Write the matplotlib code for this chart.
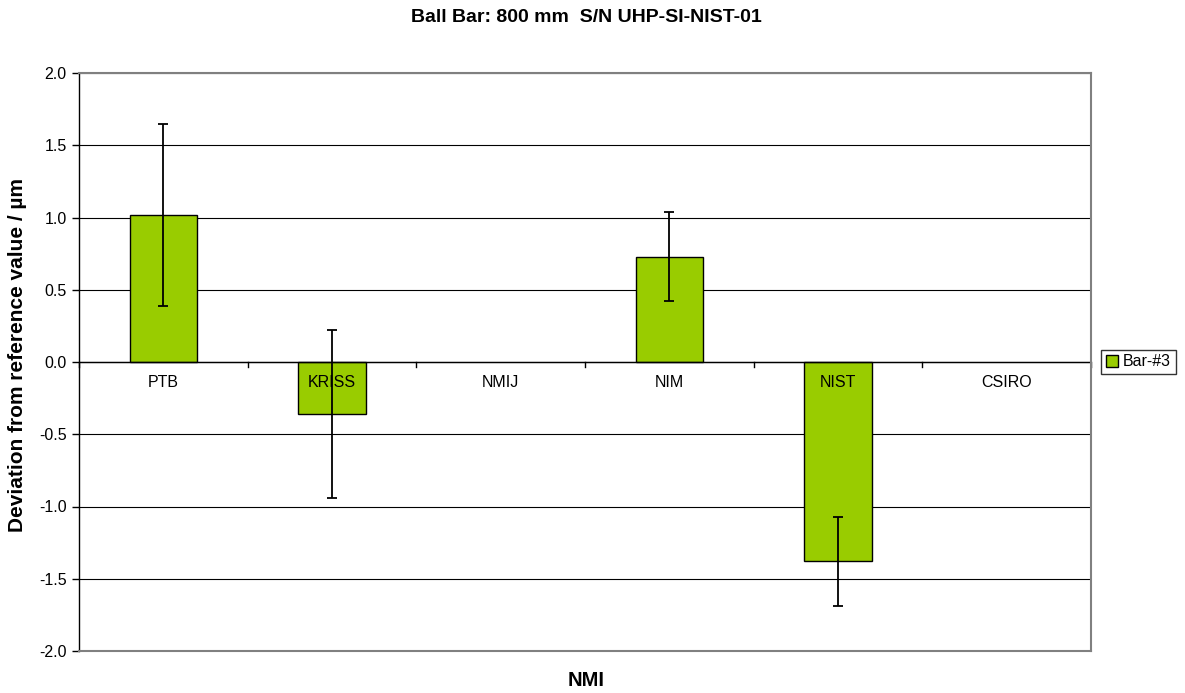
import matplotlib
matplotlib.use("Agg")
import matplotlib.pyplot as plt
import numpy as np

plt.rcParams['font.family'] = ['Liberation Sans', 'DejaVu Sans']

categories = ["PTB", "KRISS", "NMIJ", "NIM", "NIST", "CSIRO"]
values = [1.02, -0.36, np.nan, 0.73, -1.38, np.nan]
errors = [0.63, 0.58, np.nan, 0.31, 0.31, np.nan]
series_name = "Bar-#3"
y_ticks = [-2.0, -1.5, -1.0, -0.5, 0.0, 0.5, 1.0, 1.5, 2.0]

fig = plt.figure(figsize=(11.85, 6.93), dpi=100)
ax = fig.add_axes([79/1185, 42/693, (1091-79)/1185, (651-73)/693])

x = np.arange(len(categories))
vals = np.array(values, dtype=float)
errs = np.array(errors, dtype=float)
mask = ~np.isnan(vals)

for yt in y_ticks:
    ax.axhline(yt, color='black', lw=0.8, zorder=1)

bars = ax.bar(x[mask], vals[mask], width=0.40, color='#99cc00', edgecolor='black',
              linewidth=1.0, zorder=2, label=series_name)
ax.errorbar(x[mask], vals[mask], yerr=errs[mask], fmt='none', ecolor='black',
            elinewidth=1.3, capsize=3.3, capthick=1.3, zorder=3)

ax.set_xlim(-0.5, len(categories) - 0.5)
ax.set_ylim(-2.0, 2.0)
ax.set_yticks(y_ticks)
ax.set_yticklabels([f"{v:.1f}" for v in y_ticks], fontsize=11.5)
ax.tick_params(axis='y', direction='out', length=5, width=1.0, pad=4)

# category labels below zero line
ax.set_xticks([])
for xi, c in zip(x, categories):
    ax.text(xi, -0.09, c, ha='center', va='top', fontsize=11.5, zorder=4)
# zero line tick marks at category boundaries
ax.axhline(0, color='black', lw=1.0, zorder=2.5)
for b in np.arange(-0.5, len(categories) + 0.5, 1.0):
    ax.plot([b, b], [0, -0.035], color='black', lw=1.0, zorder=2.5, clip_on=False)

for s in ['top', 'right', 'bottom']:
    ax.spines[s].set_color('#808080')
    ax.spines[s].set_linewidth(1.5)
ax.spines['left'].set_color('black')
ax.spines['left'].set_linewidth(1.0)

fig.text(18/1185, 1 - 355/693, "Deviation from reference value / µm", ha='center', va='center',
         rotation=90, fontsize=15, fontweight='bold')
fig.text(586/1185, 1 - 681/693, "NMI", ha='center', va='center',
         fontsize=14.5, fontweight='bold')
fig.text(586/1185, 1 - 17/693, "Ball Bar: 800 mm  S/N UHP-SI-NIST-01", ha='center', va='center',
         fontsize=14, fontweight='bold')

leg = ax.legend(loc='center left', bbox_to_anchor=(1.005, 0.5), fontsize=11.5, frameon=True,
                fancybox=False, edgecolor='black', handlelength=0.8, handleheight=0.8,
                handletextpad=0.3, borderpad=0.3, borderaxespad=0.3)
leg.get_frame().set_linewidth(1.0)

fig.savefig("out.png", dpi=100)
